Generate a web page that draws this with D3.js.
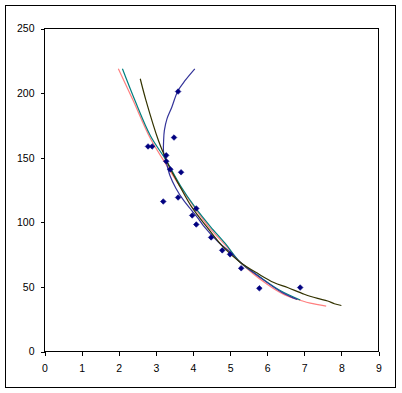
<!DOCTYPE html>
<html>
<head>
<meta charset="utf-8">
<script src="https://cdn.jsdelivr.net/npm/d3@7"></script>
<style>
    body { margin: 0; background: #fff; }
    svg { display: block; font-family: Arial, "Liberation Sans", sans-serif; }
    .tick text { font-size: 10.5px; fill: #000; }
</style>
</head>
<body>
<div id="chart"></div>
<script>
// observed points
const pointX = [2.79, 2.90, 3.49, 3.60, 3.28, 3.28, 3.39, 3.68, 3.20, 3.60,
                4.09, 3.98, 4.09, 4.49, 4.79, 5.00, 5.30, 5.79, 6.89];
const pointY = [158.7, 158.7, 165.6, 201.2, 151.8, 147.2, 141.0, 138.7, 116.1, 119.2,
                110.7, 105.3, 98.3, 88.3, 78.3, 75.2, 64.4, 48.9, 49.5];

// fitted curves
const coralX = [1.99, 2.38, 2.85, 3.25, 3.65, 4.06, 4.46, 4.95, 5.28, 6.00, 6.46, 6.91, 7.16, 7.59];
const coralY = [218.8, 194.8, 165.0, 146.0, 127.7, 110.8, 95.3, 79.9, 68.9, 52.0, 44.0, 39.5, 37.4, 35.1];

const tealX = [2.10, 2.43, 2.85, 3.28, 3.66, 4.06, 4.47, 4.87, 5.28, 5.79, 6.35, 6.89];
const tealY = [218.8, 194.8, 167.2, 147.8, 128.5, 111.5, 96.7, 83.6, 68.9, 58.0, 47.2, 39.9];

const indigoX = [4.05, 3.79, 3.59, 3.43, 3.30, 3.23, 3.21, 3.21, 3.25, 3.38, 3.54, 3.75,
                 3.97, 4.15, 4.28, 4.69, 5.05, 5.22, 5.81, 6.40, 6.81];
const indigoY = [218.8, 209.8, 201.5, 189.1, 180.1, 171.1, 163.3, 154.0, 150.2, 136.2, 126.4, 116.9,
                 109.1, 102.7, 97.5, 84.6, 75.6, 70.4, 57.3, 45.7, 40.2];

const oliveX = [2.58, 2.73, 3.07, 3.25, 3.39, 3.66, 3.97, 4.38, 4.78, 5.28, 5.78, 6.18,
                6.55, 7.00, 7.36, 7.63, 7.81, 8.00];
const oliveY = [211.1, 194.8, 163.3, 150.4, 141.4, 127.2, 111.7, 96.2, 82.0, 68.9, 59.8, 53.4,
                49.5, 44.3, 41.1, 39.1, 37.0, 35.6];

const xTicks = [0, 1, 2, 3, 4, 5, 6, 7, 8, 9];
const yTicks = [0, 50, 100, 150, 200, 250];


class ScatterChart {

    constructor(parentId) {
        this.parentId = parentId;
        this.width = 402;
        this.height = 393;
        this.x = d3.scaleLinear().domain([0, 9]).range([44.5, 378.5]);
        this.y = d3.scaleLinear().domain([0, 250]).range([351.5, 28.5]);
        this.svg = null;
    }

    render() {
        this.svg = d3.select("#" + this.parentId).append("svg")
            .attr("width", this.width)
            .attr("height", this.height);

        this.svg.append("rect")
            .attr("x", 5.5).attr("y", 5.5)
            .attr("width", 390).attr("height", 382)
            .style("fill", "#fff")
            .style("stroke", "#000");

        this.renderAxes();
        this.renderCurve(coralX, coralY, "#ff8080");
        this.renderCurve(tealX, tealY, "#008080");
        this.renderCurve(indigoX, indigoY, "#333399");
        this.renderCurve(oliveX, oliveY, "#333300");
        this.renderPoints();
    }

    renderAxes() {
        let [x0, x1] = this.x.range(),
            [y0, y1] = this.y.range();

        this.svg.append("rect")
            .attr("x", x0).attr("y", y1)
            .attr("width", x1 - x0).attr("height", y0 - y1)
            .style("fill", "none")
            .style("stroke", "#000")
            .attr("shape-rendering", "crispEdges");

        let xAxis = this.svg.append("g")
            .attr("transform", "translate(0," + y0 + ")")
            .call(d3.axisBottom(this.x).tickValues(xTicks).tickSize(4).tickPadding(9));

        let yAxis = this.svg.append("g")
            .attr("transform", "translate(" + x0 + ",0)")
            .call(d3.axisLeft(this.y).tickValues(yTicks).tickSize(4).tickPadding(6));

        [xAxis, yAxis].forEach((a) => {
            a.select(".domain").remove();
            a.selectAll(".tick line").attr("stroke", "#000").attr("shape-rendering", "crispEdges");
            a.attr("font-family", null).attr("font-size", null);
        });
    }

    renderCurve(xs, ys, color) {
        let line = d3.line()
            .x((d, i) => this.x(xs[i]))
            .y((d) => this.y(d))
            .curve(d3.curveCatmullRom);

        this.svg.append("path")
            .datum(ys)
            .attr("d", line)
            .style("fill", "none")
            .style("stroke", color)
            .style("stroke-width", 1.2);
    }

    renderPoints() {
        this.svg.append("g")
            .selectAll("path")
            .data(pointY)
            .enter().append("path")
                .attr("transform", (d, i) => "translate(" + this.x(pointX[i]) + "," + this.y(d) + ")")
                .attr("d", "M0,-2.8L2.8,0L0,2.8L-2.8,0Z")
                .style("fill", "#000080")
                .style("stroke", "#000080")
                .style("stroke-width", 0.6);
    }
}

new ScatterChart("chart").render();
</script>
</body>
</html>
